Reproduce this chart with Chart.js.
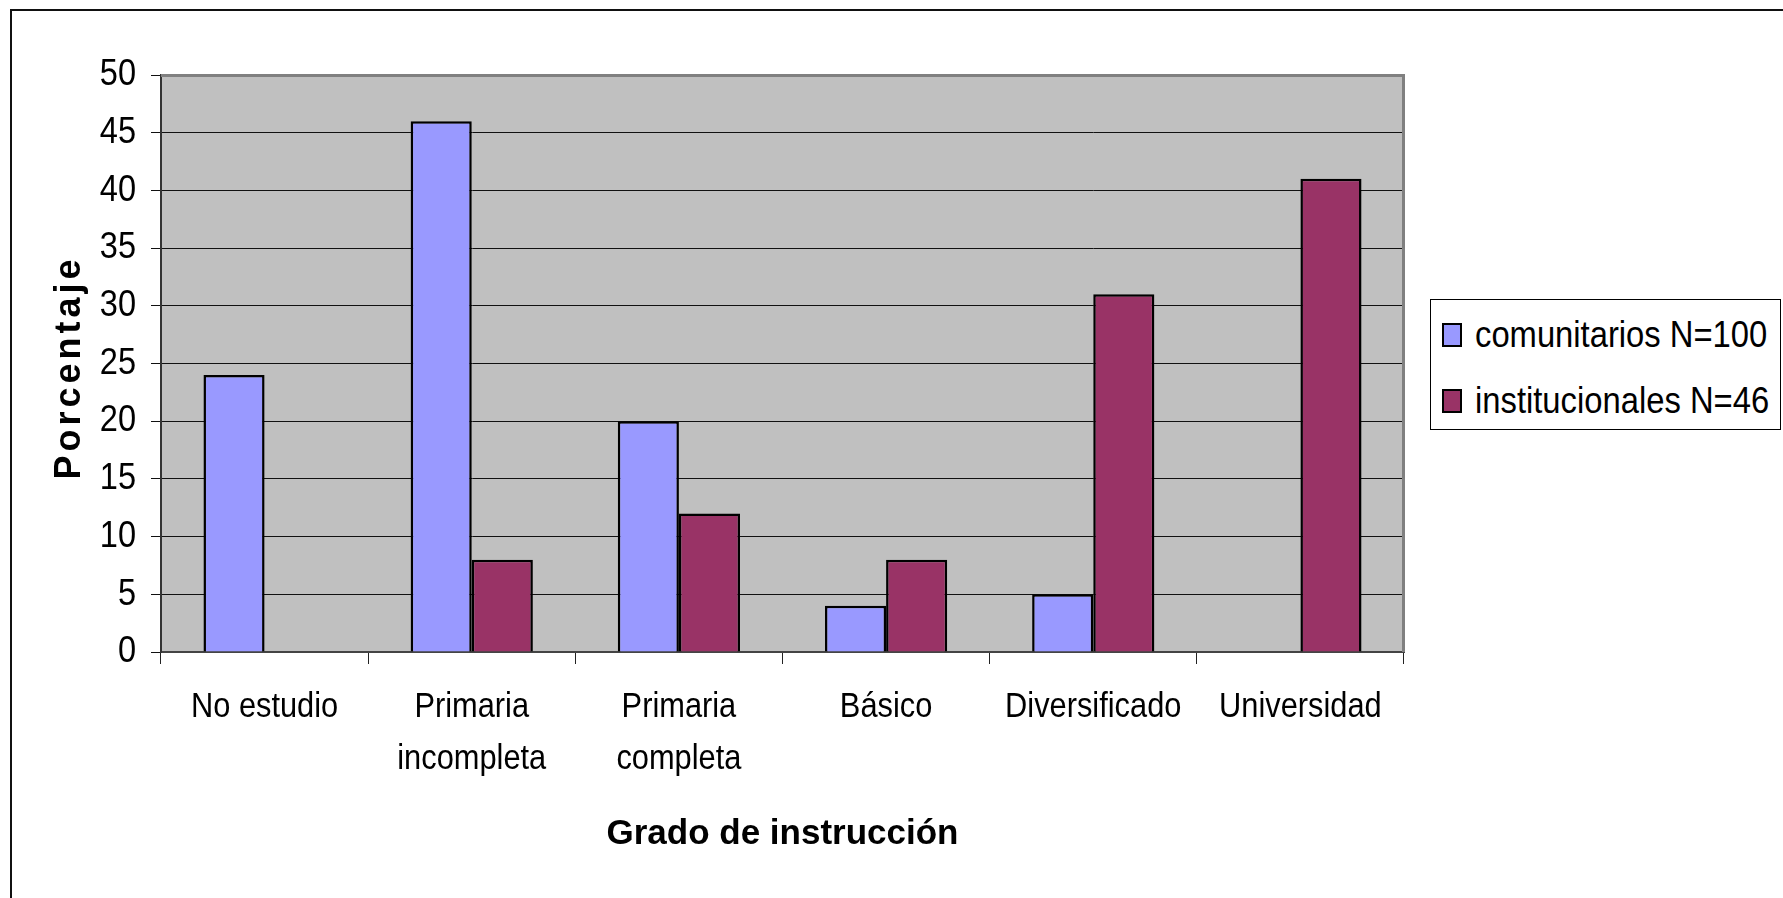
<!DOCTYPE html>
<html>
<head>
<meta charset="utf-8">
<script src="https://cdn.jsdelivr.net/npm/chart.js@4.4.1/dist/chart.umd.min.js"></script>
<style>
  html, body { margin: 0; padding: 0; background: #fff; }
  #wrap { position: relative; width: 1783px; height: 898px; overflow: hidden; }
  #c { position: absolute; left: 0; top: 0; }
  #frame { position: absolute; left: 10px; top: 9px; width: 3000px; height: 3000px;
           border-left: 2px solid #111; border-top: 2px solid #111; pointer-events: none; }
  #legend { position: absolute; left: 1430px; top: 299px; width: 351px; height: 131px;
            box-sizing: border-box; border: 1px solid #000; background: #fff; }
  .li-box { position: absolute; width: 20px; height: 24px; box-sizing: border-box; border: 2px solid #000; }
  .li-txt { position: absolute; white-space: nowrap; font-family: "Liberation Sans", Arial, sans-serif;
            font-size: 36px; line-height: 36px; color: #000; transform: scaleX(0.91); transform-origin: left center; }
</style>
</head>
<body>
<div id="wrap">
  <canvas id="c" width="1783" height="898"></canvas>
  <div id="frame"></div>
  <div id="legend"></div>
</div>
<script>
// ---- data ----
const categories = ['No estudio', ['Primaria', 'incompleta'], ['Primaria', 'completa'], 'Básico', 'Diversificado', 'Universidad'];
const seriesNames = ['comunitarios N=100', 'institucionales N=46'];
const comunitarios = [24, 46, 20, 4, 5, 0];
const institucionales = [0, 8, 12, 8, 31, 41];
const yTitle = 'Porcentaje';
const xTitle = 'Grado de instrucción';
const yMin = 0, yMax = 50, yStep = 5;
const colors = ['#9999FF', '#993366'];

// condensed rendering for regular-weight canvas text (reference font is narrow)
const origFill = CanvasRenderingContext2D.prototype.fillText;
CanvasRenderingContext2D.prototype.fillText = function (text, x, y, maxWidth) {
  if (this.__condense && !/bold|700/.test(this.font)) {
    const w = this.measureText(text).width * this.__condense;
    maxWidth = (maxWidth === undefined) ? w : Math.min(maxWidth, w);
  }
  if (maxWidth === undefined) return origFill.call(this, text, x, y);
  return origFill.call(this, text, x, y, maxWidth);
};

const canvas = document.getElementById('c');
const ctx = canvas.getContext('2d');
ctx.__condense = 0.88;

const FONT = "'Liberation Sans', Arial, sans-serif";

const plotDecor = {
  id: 'plotDecor',
  beforeDraw(chart) {
    const a = chart.chartArea, c = chart.ctx;
    c.save();
    c.fillStyle = '#C0C0C0';
    c.fillRect(a.left, a.top, a.right - a.left, a.bottom - a.top);
    c.restore();
    const s = chart.scales.y;
    if (s && !s.__patched) {
      const o = s.drawTitle;
      s.drawTitle = function () {
        this.ctx.save();
        this.ctx.letterSpacing = '4px';
        this.ctx.translate(0, 4);
        o.call(this);
        this.ctx.restore();
      };
      s.__patched = true;
    }
  },
  afterDatasetsDraw(chart) {
    const a = chart.chartArea, c = chart.ctx;
    c.save();
    c.strokeStyle = '#808080';
    c.lineWidth = 3;
    c.beginPath();
    c.moveTo(a.left, a.top + 0.5);
    c.lineTo(a.right - 0.5, a.top + 0.5);
    c.lineTo(a.right - 0.5, a.bottom);
    c.stroke();
    c.restore();
  }
};

const chart = new Chart(ctx, {
  type: 'bar',
  data: {
    labels: categories,
    datasets: [
      { label: seriesNames[0], data: comunitarios, backgroundColor: colors[0], borderColor: '#000', borderWidth: 2.5,
        categoryPercentage: 0.59, barPercentage: 1.0 },
      { label: seriesNames[1], data: institucionales, backgroundColor: colors[1], borderColor: '#000', borderWidth: 2.5,
        categoryPercentage: 0.59, barPercentage: 1.0 }
    ]
  },
  options: {
    responsive: false,
    devicePixelRatio: 1,
    animation: false,
    events: [],
    layout: { padding: { top: 75, right: 379, bottom: 0, left: 0 } },
    plugins: { legend: { display: false }, tooltip: { enabled: false }, title: { display: false } },
    scales: {
      x: {
        offset: true,
        grid: { display: true, drawOnChartArea: false, drawTicks: true, tickLength: 12, color: '#222', lineWidth: 1, offset: true },
        border: { display: true, color: '#444', width: 2 },
        ticks: { color: '#000', font: { family: FONT, size: 35, lineHeight: 1.47 }, padding: 18, maxRotation: 0, autoSkip: false },
        title: { display: true, text: xTitle, color: '#000', font: { family: FONT, size: 35, weight: 'bold', lineHeight: 1.2 },
                 padding: { top: 0, bottom: 43 } },
        afterFit(scale) { scale.height = 246; }
      },
      y: {
        min: yMin, max: yMax,
        grid: { color: '#111', lineWidth: 1, tickLength: 10, drawTicks: true },
        border: { display: true, color: '#333', width: 2 },
        ticks: { stepSize: yStep, color: '#000', font: { family: FONT, size: 37, lineHeight: 1.2 }, padding: 15 },
        title: { display: true, text: yTitle, color: '#000', font: { family: FONT, size: 36, weight: 'bold', lineHeight: 1.2 },
                 padding: { top: 48, bottom: 0 } },
        afterFit(scale) { scale.width = 161; }
      }
    }
  },
  plugins: [plotDecor]
});
chart.draw();

// ---- legend (HTML, from dataset labels/colors) ----
const legend = document.getElementById('legend');
const rowCenters = [335, 401];
chart.data.datasets.forEach((ds, i) => {
  const box = document.createElement('div');
  box.className = 'li-box';
  box.style.left = (1442 - 1431) + 'px';
  box.style.top = (rowCenters[i] - 12 - 300) + 'px';
  box.style.background = ds.backgroundColor;
  legend.appendChild(box);
  const t = document.createElement('div');
  t.className = 'li-txt';
  t.textContent = ds.label;
  t.style.left = (1475 - 1431) + 'px';
  t.style.top = (rowCenters[i] - 17.6 - 300) + 'px';
  legend.appendChild(t);
});
</script>
</body>
</html>
